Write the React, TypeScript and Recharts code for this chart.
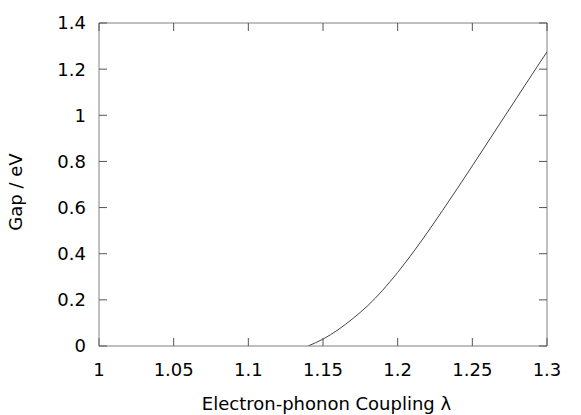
import React from 'react';
import { LineChart, Line, XAxis, YAxis, Label, ReferenceLine } from 'recharts';

const lambdaValues = [1.14, 1.15, 1.16, 1.17, 1.18, 1.19, 1.2, 1.21, 1.22, 1.23, 1.24, 1.25, 1.26, 1.27, 1.28, 1.29, 1.3];
const gapValues = [0, 0.03, 0.07, 0.119, 0.175, 0.242, 0.319, 0.403, 0.493, 0.587, 0.683, 0.781, 0.88, 0.979, 1.078, 1.177, 1.275];
const xTicks = [1, 1.05, 1.1, 1.15, 1.2, 1.25, 1.3];
const yTicks = [0, 0.2, 0.4, 0.6, 0.8, 1, 1.2, 1.4];

const data = lambdaValues.map((l, i) => ({ l, g: gapValues[i] }));

const FONT = '"DejaVu Sans", sans-serif';
const FRAME = '#808080';
const TICK = '#555';
const PLOT_TOP = 15;
const PLOT_RIGHT = 539;
const TICK_LEN = 8;

const BottomTick = (props: any) => {
  const { x, y, payload } = props;
  return (
    <g>
      <line x1={x} x2={x} y1={PLOT_TOP} y2={PLOT_TOP + TICK_LEN} stroke={TICK} />
      <text x={x} y={y} dy="0.71em" textAnchor="middle" fontSize={18} fontFamily={FONT} fill="#000">
        {String(payload.value)}
      </text>
    </g>
  );
};

const LeftTick = (props: any) => {
  const { x, y, payload } = props;
  return (
    <g>
      <line x1={PLOT_RIGHT - TICK_LEN} x2={PLOT_RIGHT} y1={y} y2={y} stroke={TICK} />
      <text x={x} y={y} dy="0.355em" textAnchor="end" fontSize={18} fontFamily={FONT} fill="#000">
        {String(payload.value)}
      </text>
    </g>
  );
};

export default function App() {
  return (
    <LineChart width={573} height={407} data={data} margin={{ top: PLOT_TOP, right: 34, left: 0, bottom: 0 }}>
      <XAxis
        dataKey="l"
        type="number"
        domain={[1, 1.3]}
        ticks={xTicks}
        height={69}
        tickSize={-TICK_LEN}
        tickMargin={25}
        axisLine={{ stroke: FRAME }}
        tickLine={{ stroke: TICK }}
        tick={<BottomTick />}
        allowDataOverflow
      >
        <Label
          content={() => (
            <text x={318.5} y={402} textAnchor="middle" fontSize={18} fontFamily={FONT} fill="#000">
              Electron-phonon Coupling λ
            </text>
          )}
        />
      </XAxis>
      <YAxis
        type="number"
        domain={[0, 1.4]}
        ticks={yTicks}
        width={91}
        tickSize={-TICK_LEN}
        tickMargin={21}
        axisLine={{ stroke: FRAME }}
        tickLine={{ stroke: TICK }}
        tick={<LeftTick />}
        allowDataOverflow
      >
        <Label
          content={() => (
            <text x={14} y={184} transform="rotate(-90, 14, 184)" textAnchor="middle" fontSize={18} fontFamily={FONT} fill="#000">
              Gap / eV
            </text>
          )}
        />
      </YAxis>
      <ReferenceLine y={1.4} stroke={FRAME} ifOverflow="visible" />
      <ReferenceLine x={1.3} stroke={FRAME} ifOverflow="visible" />
      <Line
        type="monotone"
        dataKey="g"
        stroke="#444"
        strokeWidth={1}
        dot={false}
        isAnimationActive={false}
      />
    </LineChart>
  );
}
